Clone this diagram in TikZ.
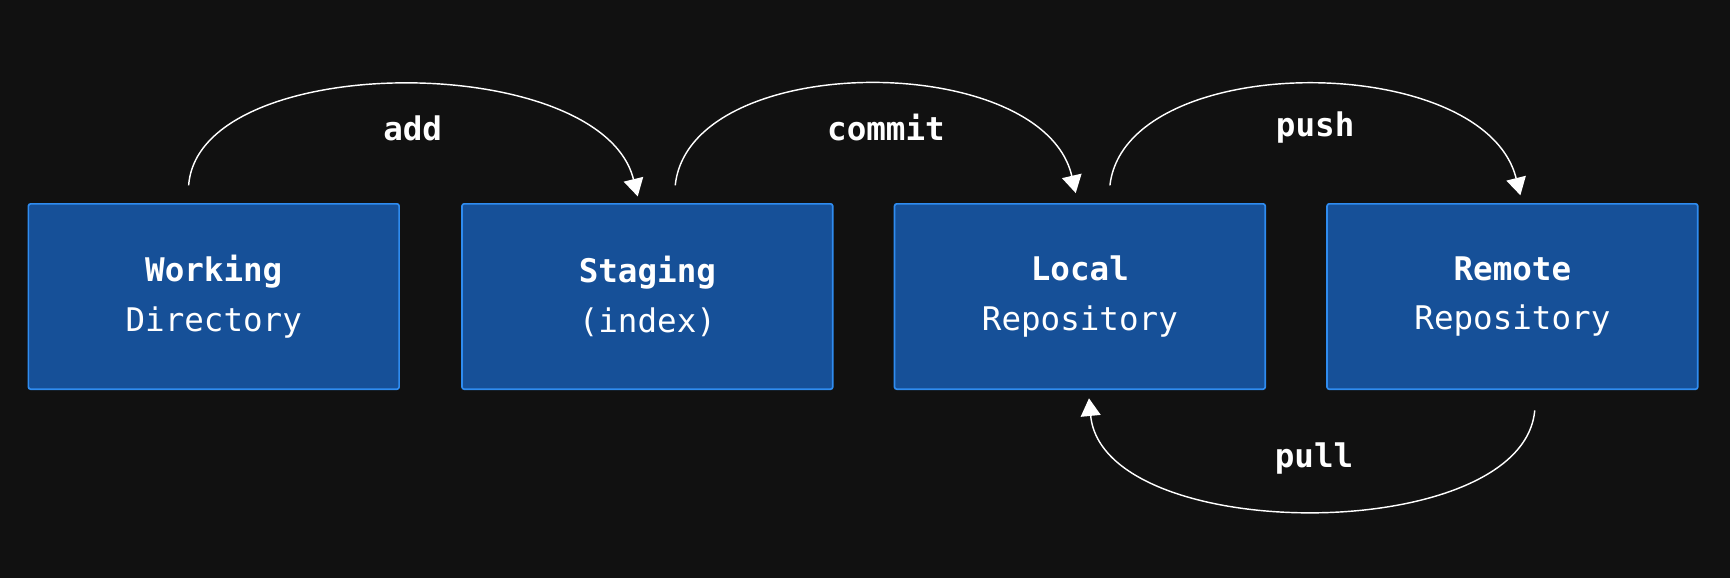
\documentclass[tikz,border=0pt]{standalone}
\usepackage{fontspec}
\setmonofont{DejaVu Sans Mono}
\usetikzlibrary{arrows.meta}
\definecolor{bg}{HTML}{111111}
\definecolor{boxfill}{HTML}{165098}
\definecolor{boxline}{HTML}{2F8CF0}
\begin{document}
\begin{tikzpicture}[x=1pt,y=-1pt,
  box/.style={draw=boxline,line width=1.5pt,fill=boxfill,rounded corners=2pt,minimum width=336pt,minimum height=168pt,anchor=north west,inner sep=0pt,text=white,font=\fontsize{29.5}{45}\ttfamily,align=center},
  arr/.style={draw=white,line width=1.3pt,-{Triangle[length=16pt,width=18pt]}},
  lab/.style={text=white,font=\fontsize{29.5}{34}\ttfamily\bfseries}]
\fill[bg] (0,0) rectangle (1568,524);
\useasboundingbox (0,0) rectangle (1568,524);
\node[box] (w) at (25,184) {\textbf{Working}\\Directory};
\node[box] (s) at (418,184) {\textbf{Staging}\\(index)};
\node[box] (l) at (810,184) {\textbf{Local}\\Repository};
\node[box] (r) at (1202,184) {\textbf{Remote}\\Repository};
\coordinate (a1) at (171,168); \coordinate (a2) at (578,178);
\coordinate (c1) at (612,168); \coordinate (c2) at (975,175);
\coordinate (p1) at (1006,168); \coordinate (p2) at (1378,177);
\coordinate (q1) at (1391,372); \coordinate (q2) at (987,361);
\draw[arr] (a1) .. controls (180,45) and (545,45) .. (a2);
\draw[arr] (c1) .. controls (625,45) and (945,45) .. (c2);
\draw[arr] (p1) .. controls (1020,45) and (1345,45) .. (p2);
\draw[arr] (q1) .. controls (1380,495) and (1000,495) .. (q2);
\node[lab] (la) at (374,116) {add};
\node[lab] (lc) at (803,116) {commit};
\node[lab] (lp) at (1192,116) {push};
\node[lab] (lq) at (1191,416) {pull};
\end{tikzpicture}
\end{document}
